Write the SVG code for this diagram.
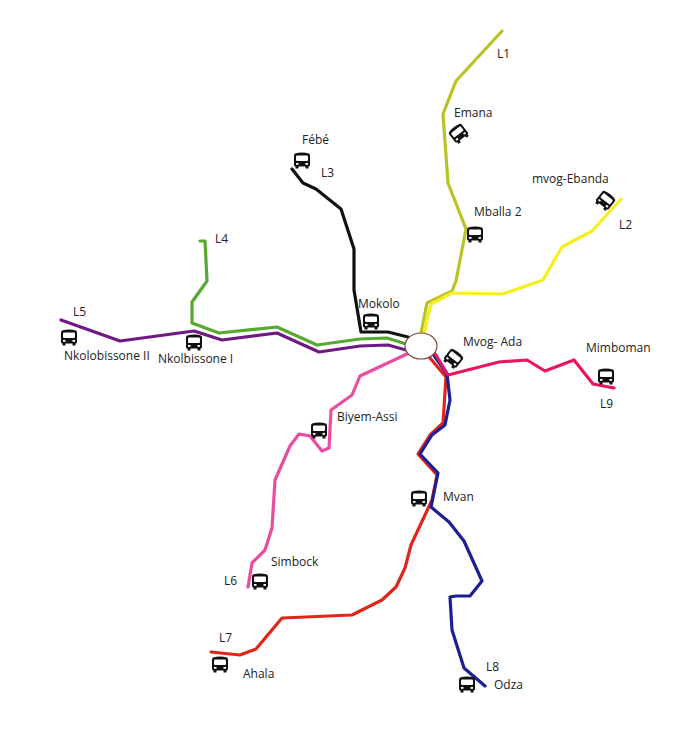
<svg xmlns="http://www.w3.org/2000/svg" width="700" height="743" viewBox="0 0 700 743">
<style>
.l{fill:none;stroke-width:3.2;stroke-linejoin:round;stroke-linecap:round}
text{font-family:"Open Sans","Noto Sans","Liberation Sans",sans-serif;font-size:12px;fill:#222}
.b{fill:#111}.w{fill:#fff}
</style>
<defs>
<g id="bus">
<path class="b" d="M-7-7.5Q0-9.5 7-7.5Q8-7 8-5V4Q8 5.5 6.5 5.5V7.5H3.5V5.5H-3.5V7.5H-6.5V5.5Q-8 5.5-8 4V-5Q-8-7-7-7.5Z"/>
<rect class="w" x="-6" y="-5.5" width="12" height="5.5" rx="1"/>
<rect class="w" x="-6" y="2" width="2.5" height="1.8"/>
<rect class="w" x="3.5" y="2" width="2.5" height="1.8"/>
</g>
</defs>
<rect width="700" height="743" fill="#fff"/>
<g id="connectors">
<path id="L1" class="l" stroke="#b8c424" d="M502 31L456 81L443 114L448 183L466 229L456 281L452 291L427 303L421 333"/>
<path id="L2" class="l" stroke="#f4f01e" d="M621 199L592 231L562 247L543 280L503 294L452 293L431 304L424 333"/>
<path id="L3" class="l" stroke="#111" d="M292 169L303 183L316 189L341 209L354 249V290L361 332H388L408 337"/>
<path id="L4" class="l" stroke="#55a92e" d="M200 241L205 241L207 281L192 302V323L219 333L277 327L317 345L360 339L387 338L406 344"/>
<path id="L5" class="l" stroke="#6f1a83" d="M61 320L120 341L194 331L222 340L277 333L319 352L360 346L388 345L406 350"/>
<path id="L6" class="l" stroke="#ea4da0" d="M248 587L252 563L265 550L272 528L275 480L290 446L299 434L310 436L322 451L329 448L331 410L352 395L360 376L409 353"/>
<path id="L7" class="l" stroke="#e0261a" d="M211 652L240 655L256 649L282 618L352 615L382 600L396 587L405 568L411 545L432 500L437 475L418 454L430 435L443 423L446 377L430 358"/>
<path id="L8" class="l" stroke="#1c1f96" d="M485 686L464 668L452 630L450 597L456 596H470L482 581L464 541L449 522L431 507L438 473L420 454L432 435L445 425L450 400L447 374L433 354"/>
<path id="L9" class="l" stroke="#e8175d" d="M614 388L593 384L574 360L545 371L527 360L499 362L448 375L434 352"/>
</g>
<g id="hub"><ellipse cx="421" cy="346" rx="16" ry="13" fill="#fff" stroke="#7b4a36" stroke-width="1.2"/></g>
<g id="node-emana"><use href="#bus" transform="translate(459 134) rotate(-38)"/><text x="454" y="117">Emana</text></g>
<g id="node-mvog-ebanda"><use href="#bus" transform="translate(605 201) rotate(38)"/><text x="532" y="183">mvog-Ebanda</text></g>
<g id="node-mballa"><use href="#bus" transform="translate(475 235)"/><text x="474" y="216">Mballa 2</text></g>
<g id="node-febe"><use href="#bus" transform="translate(302 161)"/><text x="302" y="144">Fébé</text></g>
<g id="node-mokolo"><use href="#bus" transform="translate(371 322)"/><text x="358" y="308">Mokolo</text></g>
<g id="node-mvog-ada"><use href="#bus" transform="translate(453 359) rotate(38)"/><text x="463" y="346">Mvog- Ada</text></g>
<g id="node-mimboman"><use href="#bus" transform="translate(606 377)"/><text x="586" y="352">Mimboman</text></g>
<g id="node-nkolobissone2"><use href="#bus" transform="translate(69 338)"/><text x="64" y="360">Nkolobissone II</text></g>
<g id="node-nkolbissone1"><use href="#bus" transform="translate(194 343)"/><text x="158" y="363">Nkolbissone I</text></g>
<g id="node-biyem"><use href="#bus" transform="translate(319 431)"/><text x="337" y="421">Biyem-Assi</text></g>
<g id="node-mvan"><use href="#bus" transform="translate(419 499)"/><text x="443" y="501">Mvan</text></g>
<g id="node-simbock"><use href="#bus" transform="translate(260 582)"/><text x="271" y="566">Simbock</text></g>
<g id="node-ahala"><use href="#bus" transform="translate(220 665)"/><text x="243" y="678">Ahala</text></g>
<g id="node-odza"><use href="#bus" transform="translate(467 685)"/><text x="494" y="689">Odza</text></g>
<g id="labels">
<text x="497" y="58">L1</text><text x="619" y="229">L2</text><text x="321" y="177">L3</text><text x="215" y="243">L4</text><text x="73" y="316">L5</text><text x="224" y="585">L6</text><text x="219" y="642">L7</text><text x="486" y="671">L8</text><text x="600" y="408">L9</text>
</g>
</svg>
